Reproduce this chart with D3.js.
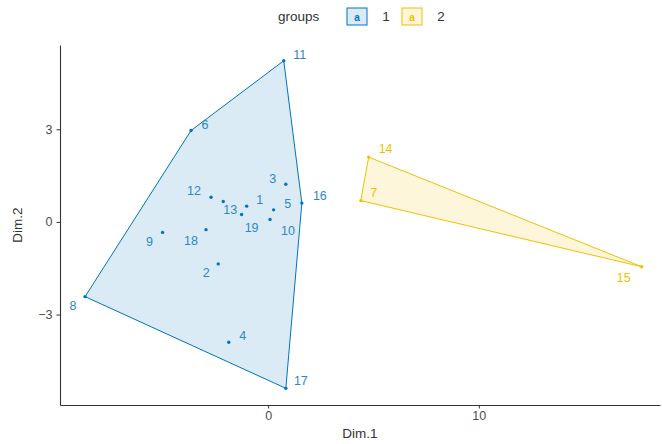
<!DOCTYPE html>
<html>
<head>
<meta charset="utf-8">
<script src="https://cdn.jsdelivr.net/npm/d3@7"></script>
<style>
  body { margin: 0; background: #fff; }
  svg { display: block; font-family: "Liberation Sans", Arial, sans-serif; }
</style>
</head>
<body>
<svg id="chart" width="662" height="444"></svg>
<script>
// observation ids, coordinates on the first two dims, cluster group
var ids    = ["1","2","3","4","5","6","7","8","9","10","11","12","13","14","15","16","17","18","19"];
var dim1   = [-1.02,-2.37,0.84,-1.87,0.26,-3.66,4.40,-8.69,-5.01,0.09,0.74,-2.71,-2.13,4.77,17.73,1.60,0.84,-2.95,-1.26];
var dim2   = [0.51,-1.36,1.22,-3.90,0.39,2.96,0.69,-2.42,-0.34,0.08,5.22,0.80,0.66,2.10,-1.45,0.61,-5.39,-0.25,0.24];
var groups = ["1","1","1","1","1","1","2","1","1","1","1","1","1","2","2","1","1","1","1"];

var groupNames = ["1","2"];
var xTicks = [0, 10];
var yTicks = [-3, 0, 3];

// label nudges in px (repel-like placement), layout only
var labelNudge = {
	"1":[13,-7], "2":[-12,9], "3":[-13,-6], "4":[14,-7], "5":[14,-6], "6":[14,-6],
	"7":[13,-8], "8":[-12,9], "9":[-13,9], "10":[18,11], "11":[16,-6], "12":[-17,-7],
	"13":[7,8], "14":[17,-9], "15":[-18,11], "16":[18,-8], "17":[15,-8], "18":[-15,11], "19":[10,13]
};

var colors = d3.scaleOrdinal().domain(groupNames).range(["#0073C2", "#EFC000"]);
var labelColors = d3.scaleOrdinal().domain(groupNames).range(["#2F86C8", "#EFC000"]);

var svg = d3.select("#chart");
var panelLeft = 60, panelRight = 660, panelTop = 45, panelBottom = 405;

//Scales (domain includes ggplot-like expansion)
var x = d3.scaleLinear().domain([-9.88, 18.6]).range([panelLeft, panelRight]);
var y = d3.scaleLinear().domain([-5.93, 5.73]).range([panelBottom, panelTop]);

var points = ids.map(function(id, i) {
	return { id: id, g: groups[i], px: x(dim1[i]), py: y(dim2[i]) };
});

svg.append("defs").append("clipPath").attr("id", "panel")
	.append("rect").attr("x", panelLeft).attr("y", panelTop - 20)
	.attr("width", panelRight - panelLeft).attr("height", panelBottom - panelTop + 20);

var panel = svg.append("g").attr("clip-path", "url(#panel)");

//Convex hull of each group
groupNames.forEach(function(g) {
	var pts = points.filter(function(p) { return p.g == g; })
		.map(function(p) { return [p.px, p.py]; });
	var hull = d3.polygonHull(pts);
	panel.append("path")
		.attr("d", "M" + hull.join("L") + "Z")
		.attr("fill", colors(g))
		.attr("fill-opacity", 0.14)
		.attr("stroke", colors(g))
		.attr("stroke-width", 1);
});

//Points
panel.selectAll("circle.pt")
	.data(points)
	.enter().append("circle")
	.attr("class", "pt")
	.attr("cx", function(d) { return d.px; })
	.attr("cy", function(d) { return d.py; })
	.attr("r", 1.7)
	.attr("fill", function(d) { return colors(d.g); });

//Labels
svg.selectAll("text.lab")
	.data(points)
	.enter().append("text")
	.attr("class", "lab")
	.attr("x", function(d) { return d.px + labelNudge[d.id][0]; })
	.attr("y", function(d) { return d.py + labelNudge[d.id][1]; })
	.attr("text-anchor", "middle")
	.attr("dy", "0.36em")
	.attr("font-size", 12.5)
	.attr("fill", function(d) { return labelColors(d.g); })
	.text(function(d) { return d.id; });

//Axes
var xAxis = svg.append("g")
	.attr("transform", "translate(0," + panelBottom + ")")
	.call(d3.axisBottom(x).tickValues(xTicks).tickSize(3.5).tickSizeOuter(0).tickPadding(3));
var yAxis = svg.append("g")
	.attr("transform", "translate(" + panelLeft + ",0)")
	.call(d3.axisLeft(y).tickValues(yTicks).tickSize(3.5).tickSizeOuter(0).tickPadding(4));

[xAxis, yAxis].forEach(function(a) {
	a.select(".domain").attr("stroke", "#333").attr("stroke-width", 1.1);
	a.selectAll(".tick line").attr("stroke", "#333");
	a.selectAll(".tick text").attr("fill", "#4D4D4D").attr("font-size", 12.5)
		.attr("font-family", "Liberation Sans, Arial, sans-serif");
});

//Axis titles
svg.append("text")
	.attr("x", (panelLeft + panelRight) / 2).attr("y", 438)
	.attr("text-anchor", "middle").attr("font-size", 13.5).attr("fill", "#333")
	.text("Dim.1");
svg.append("text")
	.attr("transform", "translate(22," + (panelTop + panelBottom) / 2 + ") rotate(-90)")
	.attr("text-anchor", "middle").attr("font-size", 13.5).attr("fill", "#333")
	.text("Dim.2");

//Legend
var legend = svg.append("g");
legend.append("text")
	.attr("x", 278).attr("y", 21)
	.attr("font-size", 13.5).attr("fill", "#333")
	.text("groups");

var keyX = [347, 402];
groupNames.forEach(function(g, i) {
	legend.append("rect")
		.attr("x", keyX[i]).attr("y", 8)
		.attr("width", 20).attr("height", 17)
		.attr("fill", colors(g)).attr("fill-opacity", 0.14)
		.attr("stroke", colors(g)).attr("stroke-width", 1);
	legend.append("text")
		.attr("x", keyX[i] + 10).attr("y", 20.5)
		.attr("text-anchor", "middle").attr("font-size", 10).attr("font-weight", "bold")
		.attr("fill", colors(g))
		.text("a");
	legend.append("text")
		.attr("x", keyX[i] + 39).attr("y", 21)
		.attr("text-anchor", "middle").attr("font-size", 13.5).attr("fill", "#333")
		.text(g);
});
</script>
</body>
</html>
